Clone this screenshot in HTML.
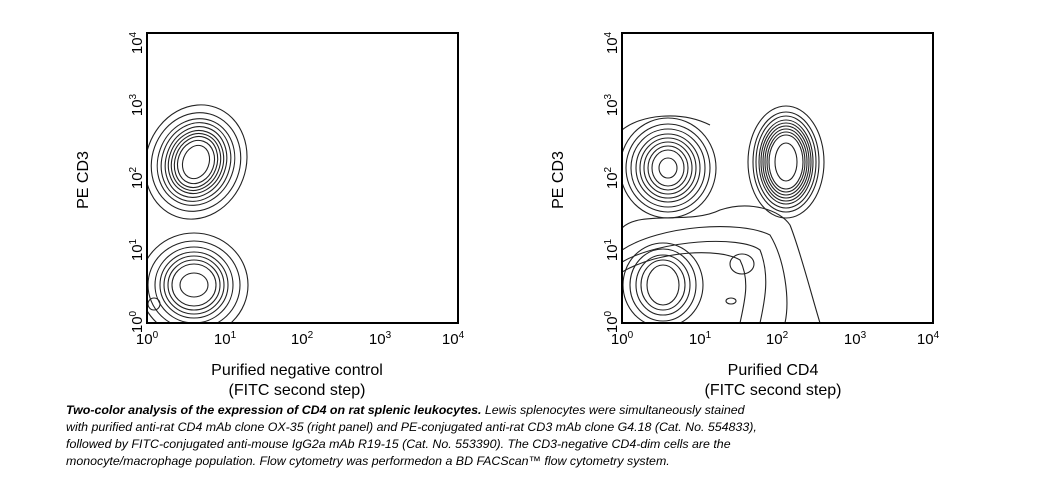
<!DOCTYPE html>
<html><head><style>
body{margin:0;background:#fff;width:1042px;height:483px;overflow:hidden;font-family:"Liberation Sans",Arial,sans-serif;}
.cap{position:absolute;left:66px;top:402px;width:900px;white-space:nowrap;font-size:12.4px;font-style:italic;line-height:17px;color:#000;}
</style></head><body>
<svg width="1042" height="400" style="position:absolute;left:0;top:0" font-family="Liberation Sans, Arial, sans-serif">
<defs>
<clipPath id="c1"><rect x="147" y="33" width="311" height="290"/></clipPath>
<clipPath id="c2"><rect x="622" y="33" width="311" height="290"/></clipPath>
</defs>
<g fill="none" stroke="#222" stroke-width="1.1" clip-path="url(#c1)">
<g transform="translate(196,162) rotate(20)">
<ellipse rx="50" ry="58"/><ellipse rx="44" ry="50"/><ellipse rx="38" ry="44"/><ellipse rx="34" ry="40"/><ellipse rx="30" ry="36"/><ellipse rx="27" ry="32"/><ellipse rx="24" ry="29"/><ellipse rx="21" ry="26"/><ellipse rx="18" ry="22"/><ellipse rx="13" ry="17"/>
</g>
<g transform="translate(194,285)">
<ellipse rx="54" ry="52"/><ellipse rx="46" ry="44"/><ellipse rx="39" ry="38"/><ellipse rx="34" ry="33"/><ellipse rx="30" ry="29"/><ellipse rx="26" ry="25"/><ellipse rx="22" ry="21"/><ellipse rx="14" ry="12"/>
</g>
<ellipse cx="154" cy="304" rx="6" ry="6"/>
</g>
<rect x="147" y="33" width="311" height="290" fill="none" stroke="#000" stroke-width="2"/>
<g fill="none" stroke="#222" stroke-width="1.1" clip-path="url(#c2)">
<g transform="translate(668,168)">
<ellipse rx="48" ry="50"/><ellipse rx="42" ry="44"/><ellipse rx="37" ry="39"/><ellipse rx="32" ry="34"/><ellipse rx="28" ry="30"/><ellipse rx="24" ry="26"/><ellipse rx="20" ry="22"/><ellipse rx="16" ry="18"/><ellipse rx="9" ry="10"/>
</g>
<g transform="translate(786,162)">
<ellipse rx="38" ry="56"/><ellipse rx="33" ry="50"/><ellipse rx="30" ry="46"/><ellipse rx="27" ry="42"/><ellipse rx="25" ry="39"/><ellipse rx="23" ry="36"/><ellipse rx="21" ry="33"/><ellipse rx="19" ry="30"/><ellipse rx="17" ry="27"/><ellipse rx="11" ry="19"/>
</g>
<path d="M622,228 C640,210 690,225 720,210 C750,200 780,210 790,225 C800,250 810,290 820,323"/>
<path d="M622,250 C660,225 740,220 770,235 C785,260 790,300 785,323"/>
<path d="M622,262 C660,240 740,235 760,250 C770,275 765,300 760,323"/>
<path d="M622,272 C660,250 720,248 740,260 C750,280 745,300 740,323"/>
<g transform="translate(663,285)">
<ellipse rx="40" ry="42"/><ellipse rx="33" ry="36"/><ellipse rx="27" ry="30"/><ellipse rx="22" ry="25"/><ellipse rx="16" ry="20"/>
</g>
<ellipse cx="742" cy="264" rx="12" ry="10"/>
<ellipse cx="731" cy="301" rx="5" ry="3"/>
<path d="M622,130 C640,115 680,110 710,125"/>
</g>
<rect x="622" y="33" width="311" height="290" fill="none" stroke="#000" stroke-width="2"/>
<g font-size="15" fill="#000">
<text x="147" y="344" text-anchor="middle">10<tspan font-size="10" dy="-6">0</tspan></text>
<text x="225" y="344" text-anchor="middle">10<tspan font-size="10" dy="-6">1</tspan></text>
<text x="302" y="344" text-anchor="middle">10<tspan font-size="10" dy="-6">2</tspan></text>
<text x="380" y="344" text-anchor="middle">10<tspan font-size="10" dy="-6">3</tspan></text>
<text x="453" y="344" text-anchor="middle">10<tspan font-size="10" dy="-6">4</tspan></text>
<text x="622" y="344" text-anchor="middle">10<tspan font-size="10" dy="-6">0</tspan></text>
<text x="700" y="344" text-anchor="middle">10<tspan font-size="10" dy="-6">1</tspan></text>
<text x="777" y="344" text-anchor="middle">10<tspan font-size="10" dy="-6">2</tspan></text>
<text x="855" y="344" text-anchor="middle">10<tspan font-size="10" dy="-6">3</tspan></text>
<text x="928" y="344" text-anchor="middle">10<tspan font-size="10" dy="-6">4</tspan></text>
<g transform="translate(142,0)">
<text transform="translate(0,322) rotate(-90)" text-anchor="middle">10<tspan font-size="10" dy="-6">0</tspan></text>
<text transform="translate(0,250) rotate(-90)" text-anchor="middle">10<tspan font-size="10" dy="-6">1</tspan></text>
<text transform="translate(0,178) rotate(-90)" text-anchor="middle">10<tspan font-size="10" dy="-6">2</tspan></text>
<text transform="translate(0,105) rotate(-90)" text-anchor="middle">10<tspan font-size="10" dy="-6">3</tspan></text>
<text transform="translate(0,43) rotate(-90)" text-anchor="middle">10<tspan font-size="10" dy="-6">4</tspan></text>
</g>
<g transform="translate(617,0)">
<text transform="translate(0,322) rotate(-90)" text-anchor="middle">10<tspan font-size="10" dy="-6">0</tspan></text>
<text transform="translate(0,250) rotate(-90)" text-anchor="middle">10<tspan font-size="10" dy="-6">1</tspan></text>
<text transform="translate(0,178) rotate(-90)" text-anchor="middle">10<tspan font-size="10" dy="-6">2</tspan></text>
<text transform="translate(0,105) rotate(-90)" text-anchor="middle">10<tspan font-size="10" dy="-6">3</tspan></text>
<text transform="translate(0,43) rotate(-90)" text-anchor="middle">10<tspan font-size="10" dy="-6">4</tspan></text>
</g>
</g>
<g font-size="16" fill="#000">
<text transform="translate(88,180) rotate(-90)" text-anchor="middle">PE CD3</text>
<text transform="translate(563,180) rotate(-90)" text-anchor="middle">PE CD3</text>
<text x="297" y="375" text-anchor="middle">Purified negative control</text>
<text x="297" y="395" text-anchor="middle">(FITC second step)</text>
<text x="773" y="375" text-anchor="middle">Purified CD4</text>
<text x="773" y="395" text-anchor="middle">(FITC second step)</text>
</g>
</svg>
<div class="cap"><b>Two-color analysis of the expression of CD4 on rat splenic leukocytes.</b> Lewis splenocytes were simultaneously stained<br>with purified anti-rat CD4 mAb clone OX-35 (right panel) and PE-conjugated anti-rat CD3 mAb clone G4.18 (Cat. No. 554833),<br>followed by FITC-conjugated anti-mouse IgG2a mAb R19-15 (Cat. No. 553390). The CD3-negative CD4-dim cells are the<br>monocyte/macrophage population. Flow cytometry was performedon a BD FACScan™ flow cytometry system.</div>
</body></html>
